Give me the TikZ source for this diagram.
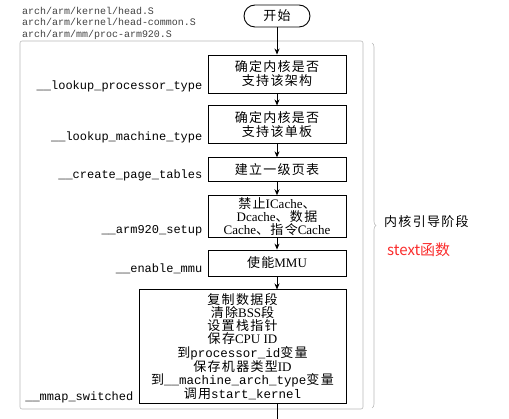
\documentclass[tikz,border=0pt]{standalone}
\usepackage{fontspec}
\newfontfamily\cjk[LetterSpace=10]{Noto Sans CJK SC}
\newfontfamily\redcjk{Noto Sans CJK SC}
\newfontfamily\lat{Liberation Serif}
\newfontfamily\mono[Scale=0.96]{Liberation Mono}
\usetikzlibrary{positioning, arrows.meta, decorations.pathreplacing}
\definecolor{stextred}{RGB}{250,45,45}
\tikzset{
  stepbox/.style={draw, line width=0.9pt, minimum width=138pt, align=center,
    inner sep=2pt, font=\fontsize{13}{14}\selectfont\cjk},
  startnode/.style={draw, line width=0.9pt, rounded corners=11pt,
    minimum width=66pt, minimum height=22pt, font=\fontsize{13}{14}\selectfont\cjk},
  flow/.style={line width=0.9pt, -{Stealth[length=6pt,width=5pt]}},
  funclbl/.style={anchor=base east, inner sep=0pt, font=\fontsize{12.5}{13}\selectfont\mono},
  frame/.style={gray!55, line width=0.6pt},
}
\begin{document}
\begin{tikzpicture}[x=1pt, y=-1pt]
        \useasboundingbox (0,0) rectangle (509,419);
        % source files
        \node[anchor=north west, inner sep=0pt, align=left, text=black!75,
          font=\fontsize{10.4}{11.5}\selectfont\mono] (srcfiles) at (22,7)
          {arch/arm/kernel/head.S\\arch/arm/kernel/head-common.S\\arch/arm/mm/proc-arm920.S};
        \draw[frame, rounded corners=2pt] (20,41) rectangle (363,409);
        % steps
        \node[startnode] (start) at (277,16) {开始};
        \node[stepbox, minimum height=38pt] (box1) at (277,74) {确定内核是否\\支持该架构};
        \node[stepbox, minimum height=38pt, below=12pt of box1] (box2) {确定内核是否\\支持该单板};
        \node[stepbox, minimum height=24pt, below=13pt of box2] (box3) {建立一级页表};
        \node[stepbox, minimum height=39pt, below=13pt of box3, font=\fontsize{13}{12.7}\selectfont\cjk] (box4)
          {禁止{\lat ICache}、\\{\lat Dcache}、数据\\{\lat Cache}、指令{\lat Cache}};
        \node[stepbox, minimum height=26pt, below=12pt of box4] (box5) {使能{\lat MMU}};
        \node[stepbox, minimum width=207pt, minimum height=114pt, anchor=north east,
          font=\fontsize{13}{13.1}\selectfont\cjk] (box6) at ([yshift=-13pt]box5.south east)
          {复制数据段\\清除{\lat BSS}段\\设置栈指针\\保存{\lat CPU ID}\\到{\mono processor\_id}变量\\
           保存机器类型{\lat ID}\\到{\mono \_\_machine\_arch\_type}变量\\调用{\mono start\_kernel}};
        % function names
        \node[funclbl] (lbl1) at ([xshift=-5pt,yshift=4pt]box1.south west) {\_\_lookup\_processor\_type};
        \node[funclbl] (lbl2) at ([xshift=-5pt,yshift=4pt]box2.south west) {\_\_lookup\_machine\_type};
        \node[funclbl] (lbl3) at ([xshift=-5pt,yshift=4pt]box3.south west) {\_\_create\_page\_tables};
        \node[funclbl] (lbl4) at ([xshift=-5pt,yshift=4pt]box4.south west) {\_\_arm920\_setup};
        \node[funclbl] (lbl5) at ([xshift=-5pt,yshift=4pt]box5.south west) {\_\_enable\_mmu};
        \node[funclbl] (lbl6) at ([xshift=-5pt,yshift=4pt]box6.south west) {\_\_mmap\_switched};
        % arrows
        \draw[flow] (start) -- (box1);
        \draw[flow] (box1) -- (box2);
        \draw[flow] (box2) -- (box3);
        \draw[flow] (box3) -- (box4);
        \draw[flow] (box4) -- (box5);
        \draw[flow] (box5) -- (box5 |- box6.north);
        \coordinate (exit) at (277,419);
        \draw[line width=0.9pt] (exit |- box6.south) -- (exit);
        % stage brace
        \draw[frame, decorate, decoration={brace, amplitude=4pt}] (372,43) -- (372,408);
        \node[anchor=west, inner sep=0pt, font=\fontsize{13}{14}\selectfont\cjk] (stage) at (384,222) {内核引导阶段};
        \node[anchor=west, inner sep=0pt, text=stextred, font=\fontsize{15}{16}\selectfont\redcjk] (stext) at (387,250) {stext函数};
      \end{tikzpicture}
\end{document}
